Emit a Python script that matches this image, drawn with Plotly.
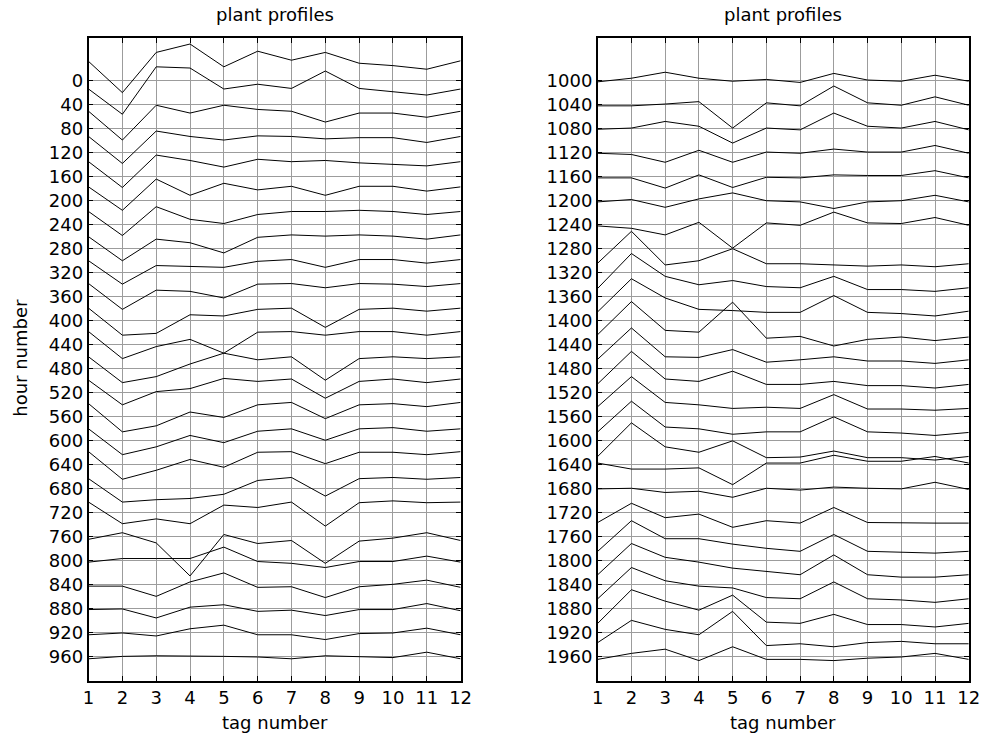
import plotly.graph_objects as go

# Tag positions along the x axis
tags = list(range(1, 13))

# Hour offsets for each stacked profile
hours_left = list(range(0, 1000, 40))
hours_right = list(range(1000, 2000, 40))

# Plotted profile values (hour offset + scaled signal), one row per hour
profiles_left = [
    [-32, 20, -47, -61, -23, -49, -34, -47, -29, -25, -19, -33],
    [14, 56, -23, -21, 14, 6, 13, -16, 13, 18, 24, 14],
    [51, 99, 41, 54, 41, 48, 51, 69, 54, 54, 61, 51],
    [93, 138, 84, 93, 99, 92, 93, 97, 95, 95, 103, 93],
    [135, 178, 124, 133, 144, 131, 135, 133, 137, 139, 142, 135],
    [177, 216, 164, 191, 171, 182, 176, 191, 176, 176, 184, 177],
    [218, 258, 210, 231, 238, 223, 218, 218, 216, 218, 223, 218],
    [260, 300, 264, 270, 287, 261, 257, 259, 257, 259, 264, 257],
    [300, 339, 308, 309, 311, 301, 298, 311, 298, 298, 304, 298],
    [338, 381, 349, 351, 362, 339, 338, 345, 338, 339, 343, 338],
    [379, 424, 421, 390, 392, 381, 379, 411, 381, 379, 384, 379],
    [418, 463, 443, 431, 454, 419, 418, 424, 418, 418, 424, 418],
    [460, 503, 493, 472, 454, 465, 460, 499, 463, 460, 463, 460],
    [499, 540, 518, 513, 496, 501, 497, 529, 501, 497, 503, 497],
    [538, 585, 575, 552, 561, 540, 536, 563, 540, 538, 543, 536],
    [580, 623, 610, 591, 603, 584, 580, 599, 580, 578, 584, 580],
    [618, 664, 649, 631, 644, 619, 618, 638, 619, 619, 623, 618],
    [663, 702, 698, 696, 689, 666, 661, 692, 663, 661, 664, 661],
    [702, 738, 730, 738, 707, 711, 702, 742, 703, 700, 703, 702],
    [764, 753, 770, 825, 756, 771, 766, 804, 767, 762, 753, 766],
    [802, 796, 796, 796, 777, 801, 804, 811, 801, 801, 792, 802],
    [842, 842, 859, 835, 820, 844, 843, 861, 843, 839, 832, 844],
    [881, 880, 895, 877, 873, 884, 882, 891, 881, 881, 871, 883],
    [923, 920, 925, 913, 907, 923, 923, 931, 921, 920, 912, 923],
    [963, 959, 958, 958, 959, 960, 963, 958, 959, 961, 952, 963],
]

profiles_right = [
    [1002, 996, 986, 996, 1001, 998, 1003, 988, 999, 1001, 991, 1001],
    [1042, 1042, 1039, 1035, 1079, 1037, 1042, 1009, 1037, 1041, 1027, 1041],
    [1081, 1079, 1068, 1076, 1104, 1079, 1082, 1054, 1076, 1079, 1068, 1082],
    [1121, 1123, 1136, 1116, 1136, 1119, 1121, 1114, 1119, 1119, 1108, 1121],
    [1162, 1162, 1179, 1157, 1178, 1161, 1162, 1157, 1158, 1158, 1150, 1162],
    [1202, 1198, 1211, 1197, 1187, 1200, 1202, 1213, 1202, 1200, 1191, 1202],
    [1242, 1246, 1257, 1236, 1279, 1237, 1241, 1219, 1237, 1238, 1228, 1241],
    [1304, 1251, 1307, 1300, 1280, 1305, 1305, 1307, 1309, 1307, 1310, 1305],
    [1346, 1288, 1326, 1340, 1333, 1343, 1345, 1326, 1348, 1348, 1351, 1345],
    [1385, 1330, 1362, 1381, 1383, 1386, 1386, 1358, 1386, 1388, 1392, 1384],
    [1423, 1368, 1416, 1419, 1369, 1429, 1426, 1442, 1431, 1427, 1433, 1427],
    [1464, 1412, 1460, 1461, 1448, 1469, 1465, 1460, 1467, 1467, 1471, 1465],
    [1505, 1451, 1497, 1501, 1484, 1506, 1506, 1501, 1508, 1508, 1512, 1506],
    [1543, 1493, 1536, 1540, 1546, 1544, 1546, 1523, 1547, 1547, 1549, 1546],
    [1585, 1534, 1577, 1580, 1589, 1585, 1585, 1560, 1585, 1587, 1591, 1586],
    [1626, 1570, 1610, 1619, 1600, 1628, 1627, 1617, 1628, 1628, 1632, 1626],
    [1637, 1647, 1647, 1645, 1673, 1637, 1637, 1624, 1634, 1634, 1626, 1637],
    [1680, 1679, 1686, 1684, 1694, 1679, 1682, 1677, 1679, 1680, 1669, 1681],
    [1736, 1704, 1728, 1722, 1744, 1733, 1737, 1711, 1736, 1737, 1737, 1737],
    [1784, 1733, 1763, 1763, 1772, 1779, 1784, 1756, 1784, 1786, 1787, 1784],
    [1823, 1771, 1794, 1802, 1812, 1818, 1823, 1790, 1823, 1827, 1827, 1823],
    [1863, 1811, 1833, 1842, 1845, 1861, 1863, 1835, 1863, 1865, 1869, 1863],
    [1904, 1848, 1867, 1882, 1857, 1902, 1904, 1889, 1906, 1906, 1910, 1904],
    [1936, 1899, 1914, 1923, 1884, 1941, 1938, 1943, 1936, 1934, 1938, 1938],
    [1964, 1954, 1947, 1966, 1943, 1964, 1964, 1966, 1962, 1960, 1954, 1964],
]

FONT = "DejaVu Sans"
W, H = 995, 738

fig = go.Figure()

for hour, vals in zip(hours_left, profiles_left):
    fig.add_trace(go.Scatter(x=tags, y=vals, mode="lines", name=str(hour),
                             line=dict(color="black", width=1),
                             xaxis="x", yaxis="y", showlegend=False))
for hour, vals in zip(hours_right, profiles_right):
    fig.add_trace(go.Scatter(x=tags, y=vals, mode="lines", name=str(hour),
                             line=dict(color="black", width=1),
                             xaxis="x2", yaxis="y2", showlegend=False))

top_px, bottom_px = 38, 681
ydom = [(H - bottom_px) / H, (H - top_px) / H]
left_dom = [84 / W, 462.5 / W]
right_dom = [602 / W, 979.5 / W]

axis_common = dict(
    showline=True, linecolor="black", linewidth=1.5, mirror="ticks",
    ticks="inside", ticklen=5, tickcolor="black", tickwidth=1,
    showgrid=True, gridcolor="#9c9c9c", gridwidth=1,
    zeroline=False, tickfont=dict(family=FONT, size=18, color="black"),
)

fig.update_layout(
    width=W, height=H,
    margin=dict(l=0, r=0, t=0, b=0),
    paper_bgcolor="white", plot_bgcolor="white",
    xaxis=dict(domain=left_dom, range=[1, 12], tickvals=tags, anchor="y", **axis_common),
    yaxis=dict(domain=ydom, range=[1000, -71], tickvals=hours_left, anchor="x", **axis_common),
    xaxis2=dict(domain=right_dom, range=[1, 12], tickvals=tags, anchor="y2", **axis_common),
    yaxis2=dict(domain=ydom, range=[2000, 929], tickvals=hours_right, anchor="x2", **axis_common),
)

txt = dict(family=FONT, size=18, color="black")
for cx in [(left_dom[0] + left_dom[1]) / 2, (right_dom[0] + right_dom[1]) / 2]:
    fig.add_annotation(text="plant profiles", x=cx, y=1 - 15 / H, xref="paper", yref="paper",
                       showarrow=False, font=txt, xanchor="center", yanchor="middle")
    fig.add_annotation(text="tag number", x=cx, y=1 - 722 / H, xref="paper", yref="paper",
                       showarrow=False, font=txt, xanchor="center", yanchor="middle")
fig.add_annotation(text="hour number", x=14 / W, y=1 - 358 / H, xref="paper", yref="paper",
                   showarrow=False, font=txt, textangle=-90, xanchor="center", yanchor="middle")

fig.write_html("out.html")
